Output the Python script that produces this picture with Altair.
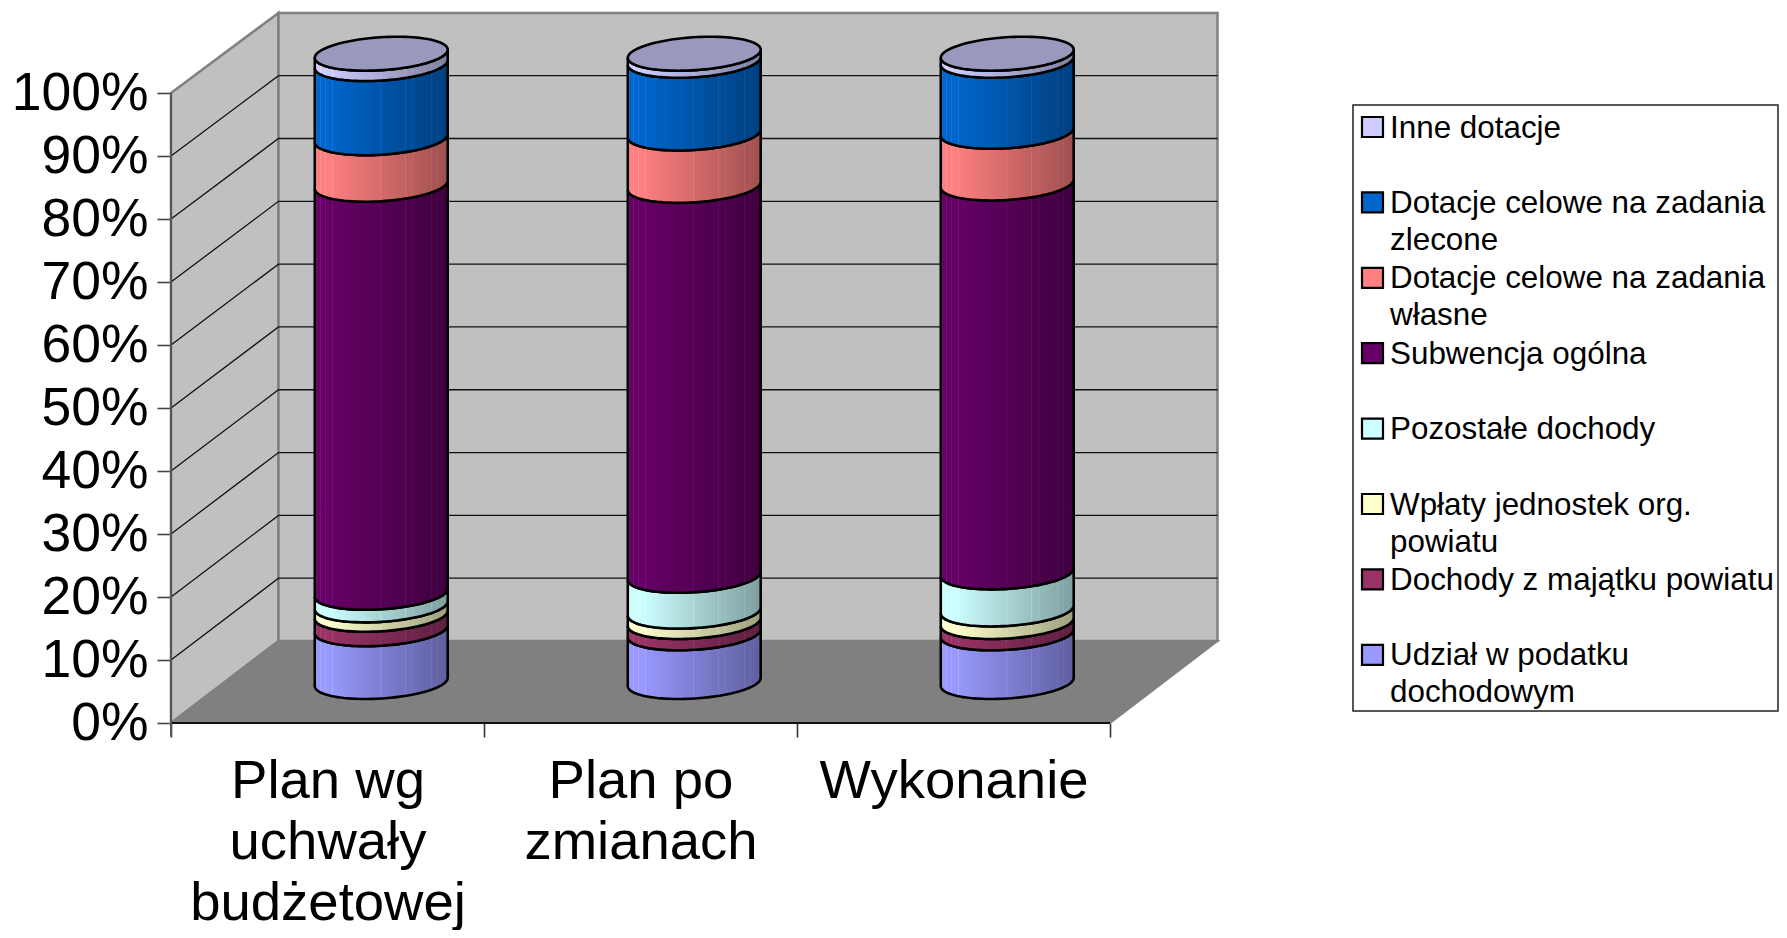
import json
import math
import altair as alt
import pandas as pd

# ---------- data (bottom to top, percent of the column) ----------
CATEGORIES = [["Plan wg", "uchwały", "budżetowej"], ["Plan po", "zmianach"], ["Wykonanie"]]
SERIES = ["Udział w podatku|dochodowym", "Dochody z majątku powiatu", "Wpłaty jednostek org.|powiatu",
          "Pozostałe dochody", "Subwencja ogólna", "Dotacje celowe na zadania|własne",
          "Dotacje celowe na zadania|zlecone", "Inne dotacje"]
COLORS = ["#9999FF", "#993366", "#FFFFCC", "#CCFFFF", "#660066", "#FF8080", "#0066CC", "#CCCCFF"]
UDZIAL = [8.4, 7.75, 7.75]
MAJATEK = [2.3, 1.8, 1.8]
WPLATY = [1.5, 1.65, 2.0]
POZOSTALE = [2.0, 5.7, 5.9]
SUBWENCJA = [64.95, 62.07, 61.9]
WLASNE = [7.4, 8.33, 8.23]
ZLECONE = [11.8, 11.57, 11.3]
INNE = [1.65, 1.13, 1.12]
VALUES = [UDZIAL, MAJATEK, WPLATY, POZOSTALE, SUBWENCJA, WLASNE, ZLECONE, INNE]
TOP_COLOR = "#9999BD"
WALL = "#C0C0C0"
FLOOR = "#808080"
FRAME = "#808080"

# ---------- oblique projection: slot, percent, depth -> plot units ----------
SLOT_PX = 313.0
PCT_PX = 6.3
DEPTH_U = 107.5 / SLOT_PX
DEPTH_V = 82.0 / PCT_PX
COLUMN_SHRINK = 0.9973
W, H = 1608, 715
LEFT = 171


def project(slot, pct, depth):
    return slot + depth * DEPTH_U, pct * (1 - 0.003 * depth) + depth * DEPTH_V


def from_page(px, py):
    return (px - LEFT) / SLOT_PX, (H + 8 - py) / PCT_PX


x_scale = alt.Scale(domain=[0, W / SLOT_PX], nice=False, zero=False)
y_scale = alt.Scale(domain=[0, H / PCT_PX], nice=False, zero=False)


def enc(**kw):
    e = dict(x=alt.X("u:Q", scale=x_scale, title=None), y=alt.Y("v:Q", scale=y_scale, title=None))
    e.update(kw)
    return e


# ---------- frame ----------
def wall_rows():
    a0, b0 = project(0, 0, 0), project(0, 100, 0)
    a1, b1 = project(0, 0, 1), project(0, 100, 1)
    return [dict(u=a0[0], v=b0[1], v2=a0[1]), dict(u=a1[0], v=b1[1], v2=a1[1])]


left_wall = alt.Chart(pd.DataFrame(wall_rows())).mark_area(fill=WALL, stroke=FRAME, strokeWidth=2.5).encode(
    **enc(y2="v2:Q"))

bw0, bw1 = project(0, 0, 1), project(3, 100, 1)
back_wall = alt.Chart(pd.DataFrame([dict(u=bw0[0], v=bw1[1], v2=bw0[1]), dict(u=bw1[0], v=bw1[1], v2=bw0[1])])).mark_area(
    fill=WALL, stroke=FRAME, strokeWidth=2.5).encode(**enc(y2="v2:Q"))

f_a, f_b, f_c, f_d = project(0, 0, 0), project(0, 0, 1), project(3, 0, 0), project(3, 0, 1)
floor = alt.Chart(pd.DataFrame([
    dict(u=f_a[0], v=f_a[1], v2=f_a[1]),
    dict(u=f_b[0], v=f_b[1], v2=f_a[1]),
    dict(u=f_c[0], v=f_b[1], v2=f_c[1]),
    dict(u=f_d[0], v=f_d[1], v2=f_d[1]),
])).mark_area(fill=FLOOR, stroke=FRAME, strokeWidth=2).encode(**enc(y2="v2:Q"))

grid_rows = []
for p in range(10, 100, 10):
    for i, pt in enumerate([project(0, p, 0), project(0, p, 1), project(3, p, 1)]):
        grid_rows.append(dict(u=pt[0], v=pt[1], p=p, i=i))
grid = alt.Chart(pd.DataFrame(grid_rows)).mark_line(color="#111111", strokeWidth=1.3).encode(
    **enc(detail="p:N", order="i:Q"))

front_rows = [dict(u=0, v=0, k="a", i=0), dict(u=3, v=0, k="a", i=1)]
front = alt.Chart(pd.DataFrame(front_rows)).mark_line(color="#111111", strokeWidth=2).encode(
    **enc(detail="k:N", order="i:Q"))
spine_rows = [dict(u=0, v=-2.2, k="a", i=0), dict(u=0, v=100, k="a", i=1)]
spine = alt.Chart(pd.DataFrame(spine_rows)).mark_line(color="#555555", strokeWidth=2).encode(
    **enc(detail="k:N", order="i:Q"))

# ---------- cylinders ----------
ELL_A, ELL_B, ELL_C = 64.5 / SLOT_PX, 16.0 / SLOT_PX, 17.0 / PCT_PX
TH_R = math.atan2(ELL_B, ELL_A)
N_ARC = 48
front_thetas = [TH_R + math.pi + math.pi * k / N_ARC for k in range(N_ARC + 1)]
SEAMS = [0.013, 0.043, 0.08, 0.133, 0.495, 0.56, 0.683, 0.734, 0.791, 0.837, 0.879, 0.922, 0.955]


def shade(hex_color, f):
    r, g, b = [int(hex_color[i:i + 2], 16) for i in (1, 3, 5)]
    f = min(f, 1.0)
    return "#%02X%02X%02X" % (round(r * f), round(g * f), round(b * f))


def tint(hex_color, f, amt):
    r, g, b = [int(hex_color[i:i + 2], 16) * f for i in (1, 3, 5)]
    return "#%02X%02X%02X" % tuple(round(min(255, c + amt)) for c in (r, g, b))


def factor(t):
    return 1.0 if t < 0.1 else 1.0 - 0.38 * (t - 0.1) / 0.9


def gradient(hex_color):
    stops = []
    ts = sorted(set([0, 0.1, 0.3, 0.5, 0.7, 0.85, 1.0]))
    events = [(t, False) for t in ts] + [(s, True) for s in SEAMS]
    for t, seam in sorted(events):
        if seam:
            w = 0.002
            stops.append(alt.GradientStop(offset=t - w, color=shade(hex_color, factor(t))))
            stops.append(alt.GradientStop(offset=t, color=tint(hex_color, factor(t), 18)))
            stops.append(alt.GradientStop(offset=t + w, color=shade(hex_color, factor(t))))
        else:
            stops.append(alt.GradientStop(offset=t, color=shade(hex_color, factor(t))))
    return alt.LinearGradient(gradient="linear", stops=stops, x1=0, x2=1, y1=0, y2=0)


segments = []
tops = [0.0, 0.0, 0.0]
totals = [sum(col[b] for col in VALUES) for b in range(3)]
for s, (vals, color) in enumerate(zip(VALUES, COLORS)):
    rows = []
    for b in range(3):
        lo = tops[b] / totals[b] * 100 * COLUMN_SHRINK
        hi = (tops[b] + vals[b]) / totals[b] * 100 * COLUMN_SHRINK
        tops[b] += vals[b]
        cu, cv = b + 0.5 + 0.5 * DEPTH_U, 0.5 * DEPTH_V
        for th in front_thetas:
            du = ELL_A * math.cos(th) + ELL_B * math.sin(th)
            dv = ELL_C * math.sin(th)
            rows.append(dict(u=cu + du, v=cv + hi + dv, v2=cv + lo + dv, bar=b))
    segments.append(
        alt.Chart(pd.DataFrame(rows)).mark_area(fill=gradient(color), stroke="black", strokeWidth=2.6).encode(
            **enc(y2="v2:Q", detail="bar:N")))

cap_rows = []
for b in range(3):
    cu, cv = b + 0.5 + 0.5 * DEPTH_U, 0.5 * DEPTH_V
    for k in range(97):
        th = 2 * math.pi * k / 96
        cap_rows.append(dict(u=cu + ELL_A * math.cos(th) + ELL_B * math.sin(th),
                             v=cv + 100 * COLUMN_SHRINK + ELL_C * math.sin(th), bar=b, i=k))
caps = alt.Chart(pd.DataFrame(cap_rows)).mark_line(
    fill=TOP_COLOR, stroke="black", strokeWidth=2.6, interpolate="linear-closed").encode(
    **enc(detail="bar:N", order="i:Q"))

# ---------- axes ----------
cat_js = json.dumps(CATEGORIES, ensure_ascii=False)
x_axis = alt.Axis(
    values=[0, 0.5, 1, 1.5, 2, 2.5, 3], domain=False, grid=False, title=None,
    tickSize=14, tickColor="#333333", tickWidth=1.6,
    tickOpacity=alt.expr("datum.value % 1 == 0 ? 1 : 0"),
    labelExpr=f"datum.value % 1 == 0 ? '' : {cat_js}[floor(datum.value)]",
    labelFont="Liberation Sans", labelFontSize=54.5, labelColor="black",
    labelPadding=17, labelOverlap=False, labelLimit=900, labelBound=False, labelFlush=False,
    labelLineHeight=61, labelBaseline="top")
y_axis = alt.Axis(
    values=list(range(0, 101, 10)), domain=False, grid=False, title=None,
    tickSize=14, tickColor="#444444", tickWidth=1.6,
    labelExpr="datum.value + '%'", labelFont="Liberation Sans", labelFontSize=53.5, labelColor="black",
    labelPadding=9, labelOverlap=False, labelLimit=400, labelBound=False)
axes = alt.Chart(pd.DataFrame([dict(u=0, v=0)])).mark_point(opacity=0).encode(
    x=alt.X("u:Q", scale=x_scale, axis=x_axis), y=alt.Y("v:Q", scale=y_scale, axis=y_axis))

# ---------- legend ----------
bx0, by0 = from_page(1353, 711)
bx1, by1 = from_page(1778, 105)
legend_box = alt.Chart(pd.DataFrame([dict(u=bx0, u2=bx1, v=by0, v2=by1)])).mark_rect(
    fill="white", stroke="#222222", strokeWidth=1.5).encode(**enc(x2="u2:Q", y2="v2:Q"))
ROW_START, ROW_STEP = 127.0, 75.4
sw_rows, txt_rows = [], []
for r, (label, color) in enumerate(zip(reversed(SERIES), reversed(COLORS))):
    cy = ROW_START + r * ROW_STEP
    x0, y0 = from_page(1362, cy + 10)
    x1, y1 = from_page(1383, cy - 10)
    sw_rows.append(dict(u=x0, u2=x1, v=y0, v2=y1, c=color))
    tx, ty = from_page(1390, cy - 14.5)
    txt_rows.append(dict(u=tx, v=ty, t=label))
legend_sw = alt.Chart(pd.DataFrame(sw_rows)).mark_rect(stroke="black", strokeWidth=2.2).encode(
    **enc(x2="u2:Q", y2="v2:Q", color=alt.Color("c:N", scale=None)))
legend_txt = alt.Chart(pd.DataFrame(txt_rows)).mark_text(
    align="left", baseline="top", lineBreak="|", lineHeight=37,
    font="Liberation Sans", fontSize=31.4, color="black").encode(**enc(text="t:N"))

chart = alt.layer(
    left_wall, back_wall, floor, grid, front, spine, *segments, caps, axes, legend_box, legend_sw, legend_txt
).properties(
    width=W, height=H, autosize="none",
    padding={"left": LEFT - 8, "top": 0, "right": 0, "bottom": 207},
    background="white",
).configure_view(stroke=None)

chart.save("out.html", embed_options={"renderer": "svg", "actions": False})
